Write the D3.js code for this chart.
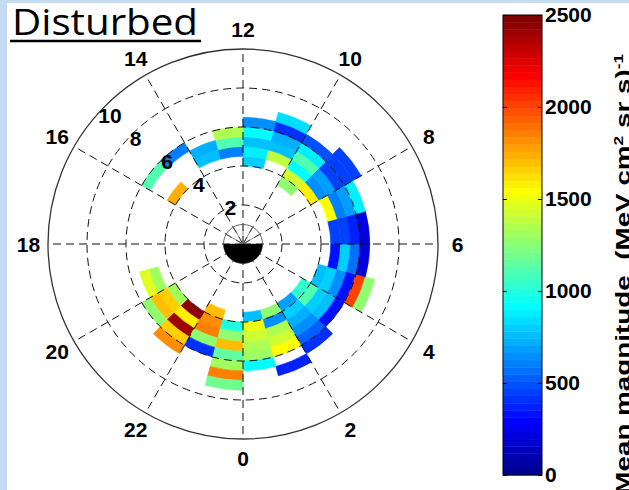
<!DOCTYPE html>
<html><head><meta charset="utf-8">
<script src="https://cdn.jsdelivr.net/npm/d3@7"></script>
<style>html,body{margin:0;padding:0;background:#fff;overflow:hidden}</style>
</head><body>
<svg id="c" width="629" height="490"></svg>
<script>
// ---------------- data ----------------
// magnetic local time bin start (hour), first L-shell of the column, values per 0.5 L bin (inner -> outer)
const binMLT = [0,1,2,3,4,5,6,7,8,9,10,11,12,13,14,15,19,20,21,22,23];
const binL0  = [3.5,3.5,3.5,3.5,4.0,4.5,4.5,4.5,4.0,3.5,4.5,4.0,4.5,4.5,5.5,4.0,4.5,4.0,4.0,3.5,4.0];
const binValues = [
  [760,1500,1420,1330,1310,920],
  [1270,630,1330,1430,1540,null,375],
  [680,800,720,650,530,400],
  [1030,1120,820,760,320],
  [760,790,640,330,2000,1250],
  [320,800,560,230],
  [440,450,380,210],
  [1560,600,700,880],
  [1600,640,700,430,430,440],
  [1280,1420,900,1100,880,500],
  [1400,750,720,420,830],
  [800,880,760,900,650],
  [600,1100,1330],
  [750,740],
  [600],
  [1720,null,null,1100],
  [1310,1470],
  [1300,1660,1680,1280],
  [2430,1570,2420,1650,1800],
  [1690,1800,1870,1280,410],
  [1000,1280,1700,1160,1320,1870,1190]
];
const mltTicks = [0,2,4,6,8,10,12,14,16,18,20,22];
const ringValues = [2,4,6,8,10];
const cbarTicks = [0,500,1000,1500,2000,2500];
const cbarMax = 2500;
const binWidthL = 0.5, binWidthMLT = 1;

// ---------------- layout / style ----------------
const svg = d3.select("#c");
const cx = 243, cy = 244, R = 195;
const FONT = "'Liberation Sans', Arial, sans-serif";

// jet(64) as MATLAB
function jet(n){
  const m = Math.ceil(n/4), u = [];
  for(let i=1;i<=m;i++) u.push(i/m);
  for(let i=0;i<m-1;i++) u.push(1);
  for(let i=m;i>=1;i--) u.push(i/m);
  const g0 = Math.ceil(m/2) - (n%4===1?1:0);
  const J = d3.range(n).map(()=>[0,0,0]);
  u.forEach((val,k)=>{
    const g = g0 + k + 1, r = g + m, b = g - m;
    if(r<=n) J[r-1][0]=val;
    if(g<=n) J[g-1][1]=val;
    if(b>=1) J[b-1][2]=val;
  });
  return J.map(c=>d3.rgb(c[0]*255,c[1]*255,c[2]*255).formatHex());
}
const jetColors = jet(64);
const color = d3.scaleQuantize().domain([0,cbarMax]).range(jetColors);

svg.append("rect").attr("width",629).attr("height",490).attr("fill","#c3daf0");
svg.append("rect").attr("x",7).attr("y",3).attr("width",622).attr("height",487).attr("fill","#fff");

const rScale = d3.scaleLinear().domain([0,10]).range([0,R]);
const ang = m => (12 - m) * Math.PI / 12;           // d3.arc angle (0 = up, clockwise)
const pos = (L,m) => [cx + rScale(L)*Math.sin(m*Math.PI/12), cy + rScale(L)*Math.cos(m*Math.PI/12)];

const g = svg.append("g").attr("transform",`translate(${cx},${cy})`);
const arc = d3.arc();

// cells
const cells = [];
binMLT.forEach((m,i)=>{
  binValues[i].forEach((v,j)=>{
    if(v==null) return;
    cells.push({m, L: binL0[i] + j*binWidthL, v});
  });
});
g.selectAll("path.cell").data(cells).join("path").attr("class","cell")
  .attr("d", d=>arc({innerRadius:rScale(d.L), outerRadius:rScale(d.L+binWidthL),
                     startAngle:ang(d.m+binWidthMLT), endAngle:ang(d.m)}))
  .attr("fill", d=>color(d.v)).attr("stroke", d=>color(d.v)).attr("stroke-width",0.6);

// grid
const dash = "8,5";
const gridCol = "#111";
ringValues.filter(v=>v<10).forEach(v=>{
  g.append("circle").attr("r",rScale(v)).attr("fill","none")
   .attr("stroke",gridCol).attr("stroke-width",1).attr("stroke-dasharray",dash);
});
mltTicks.forEach(m=>{
  const [x,y] = pos(10,m);
  g.append("line").attr("x1",0).attr("y1",0).attr("x2",x-cx).attr("y2",y-cy)
   .attr("stroke",gridCol).attr("stroke-width",1).attr("stroke-dasharray",dash);
});
g.append("circle").attr("r",rScale(10)).attr("fill","none").attr("stroke","#333").attr("stroke-width",1.3);

// Earth
g.append("circle").attr("r",rScale(1)).attr("fill","none").attr("stroke","#555").attr("stroke-width",0.9);
mltTicks.filter(m=>m>=6 && m<=18).forEach(m=>{
  const [x,y] = pos(1,m);
  g.append("line").attr("x1",0).attr("y1",0).attr("x2",x-cx).attr("y2",y-cy).attr("stroke","#666").attr("stroke-width",0.7);
});
g.append("path").attr("d", arc({innerRadius:0,outerRadius:rScale(1),startAngle:Math.PI/2,endAngle:3*Math.PI/2}))
  .attr("fill","#000");

// MLT labels
mltTicks.forEach(m=>{
  const [x,y] = pos(11,m);
  svg.append("text").attr("x",x).attr("y",y).attr("text-anchor","middle").attr("dominant-baseline","central")
    .attr("font-family",FONT).attr("font-weight","bold").attr("font-size",21).attr("fill","#000").text(m);
});
// ring labels
ringValues.forEach(v=>{
  const [x,y] = pos(v,15.6);
  svg.append("text").attr("x",x+13).attr("y",y-14).attr("text-anchor","start").attr("dominant-baseline","central")
    .attr("font-family",FONT).attr("font-weight","bold").attr("font-size",21).attr("fill","#000").text(v);
});

// title
svg.append("text").attr("x",12).attr("y",35).attr("font-family","'Open Sans', 'Noto Sans', sans-serif")
  .attr("font-size",37).attr("textLength",186).attr("lengthAdjust","spacingAndGlyphs").attr("fill","#000").text("Disturbed");
svg.append("line").attr("x1",10).attr("x2",201).attr("y1",41).attr("y2",41).attr("stroke","#000").attr("stroke-width",2.6);

// colorbar
const cbX = 503, cbW = 39;
const cb = d3.scaleLinear().domain([0,cbarMax]).range([475,15]);
const step = cbarMax/64;
svg.append("g").selectAll("rect").data(jetColors).join("rect")
  .attr("x",cbX).attr("width",cbW)
  .attr("y",(c,i)=>cb((i+1)*step)).attr("height",(c,i)=>cb(i*step)-cb((i+1)*step)+0.4)
  .attr("fill",c=>c);
svg.append("rect").attr("x",cbX).attr("y",cb(cbarMax)).attr("width",cbW).attr("height",cb(0)-cb(cbarMax))
  .attr("fill","none").attr("stroke","#000").attr("stroke-width",1);
const axR = svg.append("g").attr("transform",`translate(${cbX+cbW},0)`)
  .call(d3.axisRight(cb).tickValues(cbarTicks).tickSize(-4).tickPadding(3).tickFormat(d3.format("d")));
axR.select(".domain").remove();
axR.selectAll("text").attr("font-family",FONT).attr("font-weight","bold").attr("font-size",21).attr("fill","#000");
axR.selectAll("line").attr("stroke","#000");
const axL = svg.append("g").attr("transform",`translate(${cbX},0)`)
  .call(d3.axisLeft(cb).tickValues(cbarTicks).tickSize(-4).tickFormat(""));
axL.select(".domain").remove();
axL.selectAll("line").attr("stroke","#000");

// colorbar label
const lab = svg.append("text").attr("font-family",FONT).attr("font-weight","bold").attr("font-size",21)
  .attr("text-anchor","end").style("white-space","pre").attr("fill","#000");
lab.append("tspan").text("Mean magnitude  (MeV cm");
lab.append("tspan").attr("baseline-shift","super").attr("font-size",13).text("2");
lab.append("tspan").text(" sr s)");
lab.append("tspan").attr("baseline-shift","super").attr("font-size",13).text("-1");
const len = lab.node().getComputedTextLength();
lab.attr("transform",`translate(630,54) rotate(-90) scale(${441/len},1)`);
</script>
</body></html>
